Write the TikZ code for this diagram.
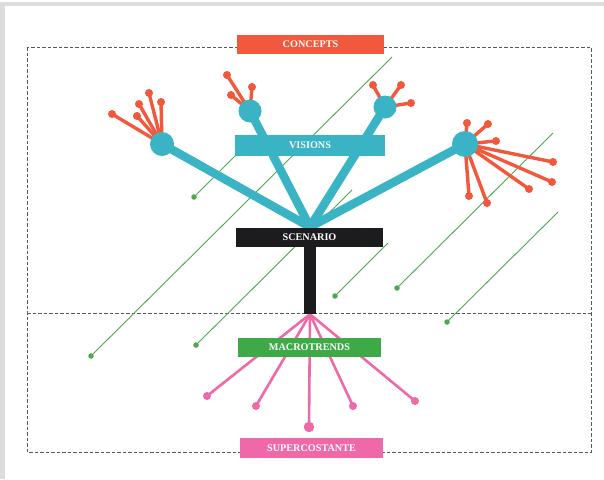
\documentclass[tikz,border=0pt]{standalone}
\usepackage{fontspec}
\setmainfont{Liberation Serif}
\definecolor{teal}{HTML}{3AB4C4}
\definecolor{coral}{HTML}{F2583B}
\definecolor{leaf}{HTML}{4DA84F}
\definecolor{leafbox}{HTML}{3EAA47}
\definecolor{rose}{HTML}{EF69A8}
\definecolor{ink}{HTML}{1C1C1E}
\definecolor{frame}{HTML}{DCDCDC}
\pgfdeclarelayer{paper}
\pgfdeclarelayer{lines}
\pgfdeclarelayer{links}
\pgfsetlayers{paper,lines,links,main}
\begin{document}
\begin{tikzpicture}[x=1pt,y=-1pt,
  label box/.style={rectangle,inner sep=0pt,minimum width=147pt,minimum height=19pt,
    text=white,font=\bfseries\fontsize{10.2}{12}\selectfont},
  hubcircle/.style={circle,fill=teal,inner sep=0pt,minimum size=24pt},
  tealline/.style={teal,line width=8.5pt},
  spoke/.style={coral,line width=3.4pt},
  cdot/.style={circle,fill=coral,inner sep=0pt,minimum size=8pt},
  pinkline/.style={rose,line width=2.6pt},
  pdot/.style={circle,fill=rose,inner sep=0pt,minimum size=8pt},
  greenline/.style={leaf,line width=0.9pt},
  gdot/.style={circle,fill=leaf,inner sep=0pt,minimum size=5.5pt},
  frameline/.style={gray!70!black,line width=0.6pt,dash pattern=on 3.5pt off 2pt}]
\useasboundingbox (0,0) rectangle (604,479);
\begin{pgfonlayer}{paper}
  \fill[white] (0,0) rectangle (604,479);
  % page edge
  \fill[frame] (3,2) rectangle (604,6);
  \fill[frame] (0,2) rectangle (5,479);
  % dashed outline and the divider
  \coordinate (fa) at (27,47);
  \coordinate (fb) at (591,452);
  \coordinate (ml) at (27,313);
  \coordinate (mr) at (591,313);
  \draw[frameline] (fa) rectangle (fb);
  \draw[frameline] (ml) -- (mr);
\end{pgfonlayer}

% green diagonal threads
\node[gdot] (g1) at (194,197) {};
\node[gdot] (g2) at (91,356) {};
\node[gdot] (g3) at (196,345) {};
\node[gdot] (g4) at (335,296) {};
\node[gdot] (g5) at (397,288) {};
\node[gdot] (g6) at (447,322) {};
\coordinate (t1) at (245,146);
\coordinate (t2) at (392,57);
\coordinate (t3) at (352,190);
\coordinate (t4) at (388,243);
\coordinate (t5) at (553,133);
\coordinate (t6) at (558,212);
\begin{pgfonlayer}{lines}
  \foreach \i in {1,...,6} \draw[greenline] (g\i.center) -- (t\i);
\end{pgfonlayer}

% labels
\node[label box,fill=coral] (concepts) at (310.5,44) {CONCEPTS};
\node[label box,fill=teal,minimum width=150pt,minimum height=21pt] (visions) at (310,145.5) {VISIONS};
\node[label box,fill=ink] (scenario) at (309.5,237.5) {SCENARIO};
\node[rectangle,fill=ink,inner sep=0pt,minimum width=12pt,minimum height=67pt] (stem) at (310,280.5) {};
\node[label box,fill=leafbox,minimum width=143pt] (macro) at (309.5,347.5) {MACROTRENDS};
\node[label box,fill=rose,minimum width=143pt,minimum height=20pt] (super) at (311.5,448) {SUPERCOSTANTE};

% vision hubs
\coordinate (hub) at (310,227);
\node[hubcircle] (v1) at (162,144) {};
\node[hubcircle,minimum size=23pt] (v2) at (250,111) {};
\node[hubcircle,minimum size=23pt] (v3) at (385,107) {};
\node[hubcircle,minimum size=26pt] (v4) at (465,144) {};
\begin{pgfonlayer}{links}
  \foreach \v in {v1,v2,v3,v4} \draw[tealline] (hub) -- (\v.center);
\end{pgfonlayer}

% concept sprouts
\foreach \n/\x/\y/\v in {a1/112/114/v1, a2/137/116/v1, a3/139/104/v1, a4/149/93/v1, a5/161/102/v1,
    b1/227/75/v2, b2/231/95/v2, b3/252/87/v2,
    c1/373/85/v3, c2/401/85/v3, c3/411/103/v3,
    d1/467/123/v4, d2/488/124/v4, d3/496/141/v4, d4/553/162/v4,
    d5/552/182/v4, d6/529/189/v4, d7/487/203/v4, d8/469/196/v4} {
  \node[cdot] (\n) at (\x,\y) {};
  \begin{pgfonlayer}{links}
    \draw[spoke] (\v.center) -- (\n.center);
  \end{pgfonlayer}
}

% macrotrend roots
\foreach \n/\x/\y/\s in {p1/207/396/8pt, p2/256/406/8pt, p3/309/427/10.5pt, p4/353/406/8pt, p5/415/401/8pt} {
  \node[pdot,minimum size=\s] (\n) at (\x,\y) {};
  \begin{pgfonlayer}{links}
    \draw[pinkline] (stem.south) -- (\n.center);
  \end{pgfonlayer}
}
\end{tikzpicture}
\end{document}
